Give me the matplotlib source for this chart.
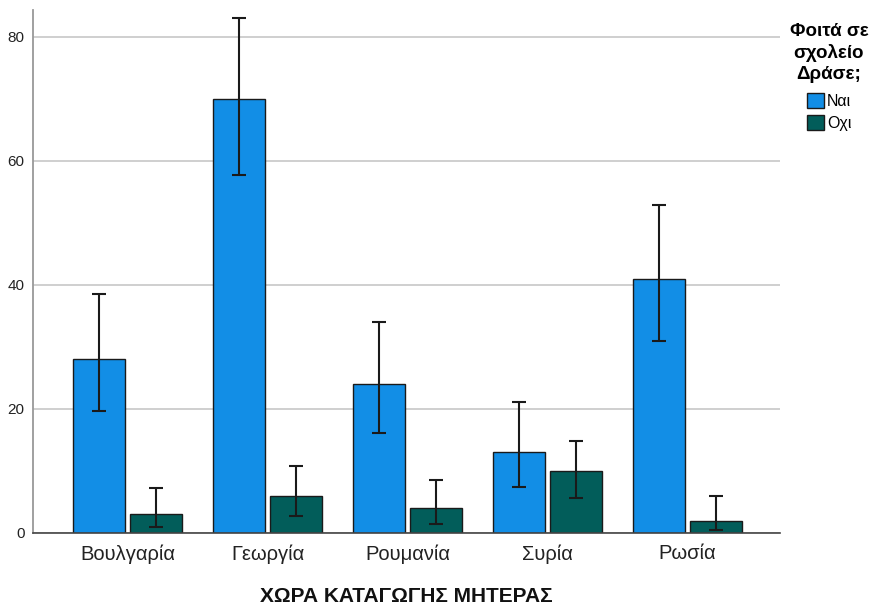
import matplotlib
matplotlib.use("Agg")
import matplotlib.pyplot as plt
import numpy as np

plt.rcParams['font.family'] = ['Liberation Sans', 'DejaVu Sans']

categories = ["Βουλγαρία", "Γεωργία", "Ρουμανία", "Συρία", "Ρωσία"]
series_names = ["Ναι", "Οχι"]
yes_vals = [28, 70, 24, 13, 41]
yes_low = [19.7, 57.8, 16.2, 7.5, 31.0]
yes_high = [38.5, 83.0, 34.0, 21.1, 52.9]
no_vals = [3, 6, 4, 10, 2]
no_low = [1.0, 2.7, 1.5, 5.7, 0.5]
no_high = [7.3, 10.8, 8.5, 14.9, 5.9]
colors = ["#128EE6", "#025D5A"]
yticks = [0, 20, 40, 60, 80]
xlabel = "ΧΩΡΑ ΚΑΤΑΓΩΓΗΣ ΜΗΤΕΡΑΣ"
legend_title = "Φοιτά σε\nσχολείο\nΔράσε;"

fig = plt.figure(figsize=(8.74, 6.06), dpi=100)
ax = fig.add_axes([33/874, 1-533/606, (780-33)/874, (533-10)/606])

x = np.arange(len(categories))
w = 0.371
off = 0.2036
for vals, lo, hi, c, name, sgn in [
    (yes_vals, yes_low, yes_high, colors[0], series_names[0], -1),
    (no_vals, no_low, no_high, colors[1], series_names[1], 1),
]:
    vals = np.array(vals); lo = np.array(lo); hi = np.array(hi)
    ax.bar(x + sgn*off, vals, width=w, color=c, edgecolor="#1a1a1a",
           linewidth=1.0, label=name, zorder=2)
    ax.errorbar(x + sgn*off, vals, yerr=[vals-lo, hi-vals], fmt='none',
                ecolor="#1a1a1a", elinewidth=1.5, capsize=5, capthick=1.5, zorder=3)

ax.set_xlim(-0.675, 4.66)
ax.set_ylim(0, (533-10)/6.2)
ax.set_yticks(yticks)
ax.set_xticks(x)
ax.set_xticklabels(categories, fontsize=14.5, color="#222222")
ax.tick_params(axis='y', length=0, labelsize=11, colors="#222222", pad=6)
ax.tick_params(axis='x', length=0, pad=8)
ax.yaxis.grid(True, color="#cccccc", linewidth=1.3, zorder=0)
ax.set_axisbelow(True)
for s in ["top", "right"]:
    ax.spines[s].set_visible(False)
ax.spines["left"].set_color("#999999")
ax.spines["left"].set_linewidth(1.3)
ax.spines["bottom"].set_color("#444444")
ax.spines["bottom"].set_linewidth(1.2)
ax.set_xlabel(xlabel, fontsize=15, fontweight="bold", color="#111111")
ax.xaxis.label.set_va("center")
ax.xaxis.set_label_coords(0.5, -(596-533)/523)

leg = fig.legend(loc="upper center", bbox_to_anchor=(829/874, 1-12/606), frameon=False,
                 title=legend_title, fontsize=11.5, handlelength=1.1, handleheight=1.1,
                 handletextpad=0.15, labelspacing=0.35, borderpad=0.2)
leg.get_title().set_fontweight("bold")
leg.get_title().set_fontsize(13.5)
leg.get_title().set_multialignment("center")
leg.get_title().set_linespacing(1.3)
leg._legend_box.sep = 7
for h in leg.legend_handles:
    h.set_edgecolor("#1a1a1a")

fig.savefig("out.png", dpi=100)
